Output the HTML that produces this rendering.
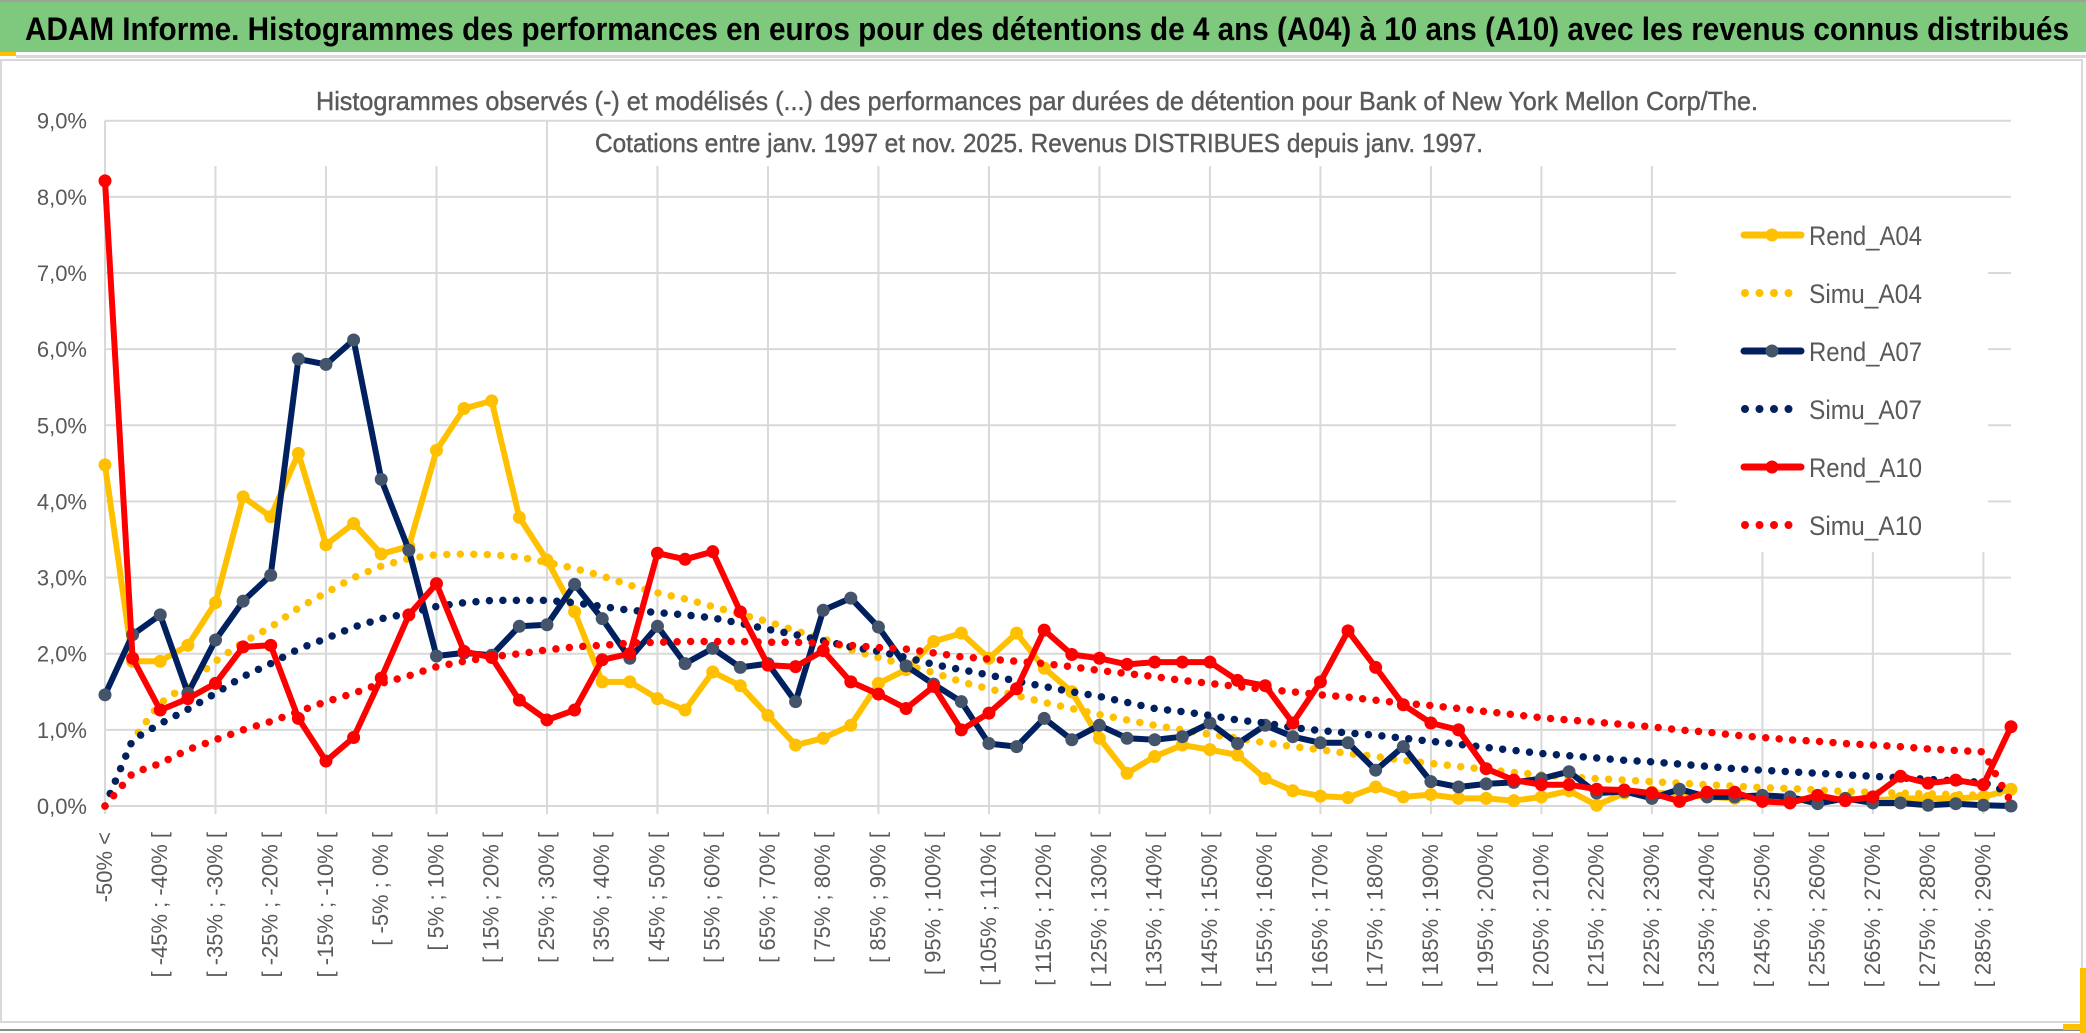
<!DOCTYPE html>
<html><head><meta charset="utf-8"><style>
html,body{margin:0;padding:0;background:#fff;}
svg{display:block;}
text{font-family:"Liberation Sans",sans-serif;}
</style></head><body>
<svg id="chart" width="2086" height="1033" viewBox="0 0 2086 1033" xmlns="http://www.w3.org/2000/svg">
<rect x="0" y="0" width="2086" height="1033" fill="#fff"/>
<rect x="0" y="0" width="2086" height="2" fill="#a0a0a0"/>
<rect x="0" y="2" width="2086" height="50" fill="#7FC97F"/>
<rect x="0" y="52" width="16" height="4" fill="#FFC000"/>
<rect x="16" y="55" width="2070" height="3" fill="#d9d9d9"/>
<text x="25" y="40" font-size="32" font-weight="bold" fill="#000" textLength="2044" lengthAdjust="spacingAndGlyphs">ADAM Informe. Histogrammes des performances en euros pour des détentions de 4 ans (A04) à 10 ans (A10) avec les revenus connus distribués</text>
<rect x="1" y="60" width="2081" height="962" fill="none" stroke="#d9d9d9" stroke-width="2"/>
<rect x="0" y="1029" width="2086" height="2" fill="#8a8a8a"/>
<rect x="2080" y="968" width="6" height="65" fill="#FFC000"/>
<rect x="2063" y="1024" width="23" height="6" fill="#FFC000"/>
<text x="1037" y="110" font-size="26" fill="#595959" stroke="#595959" stroke-width="0.4" text-anchor="middle" textLength="1442" lengthAdjust="spacingAndGlyphs">Histogrammes observés (-) et modélisés (...) des performances par durées de détention pour Bank of New York Mellon Corp/The.</text>
<text x="1039" y="152" font-size="26" fill="#595959" stroke="#595959" stroke-width="0.4" text-anchor="middle" textLength="888" lengthAdjust="spacingAndGlyphs">Cotations entre janv. 1997 et nov. 2025. Revenus DISTRIBUES depuis janv. 1997.</text>
<g id="grid"></g><g id="xlabels"></g><g id="ylabels"></g><g id="series"></g><g id="legend"></g>
</svg>
<script>
const categories = ["-50% <","[ -50% ; -45% [","[ -45% ; -40% [","[ -40% ; -35% [","[ -35% ; -30% [","[ -30% ; -25% [","[ -25% ; -20% [","[ -20% ; -15% [","[ -15% ; -10% [","[ -10% ; -5% [","[ -5% ; 0% [","[ 0% ; 5% [","[ 5% ; 10% [","[ 10% ; 15% [","[ 15% ; 20% [","[ 20% ; 25% [","[ 25% ; 30% [","[ 30% ; 35% [","[ 35% ; 40% [","[ 40% ; 45% [","[ 45% ; 50% [","[ 50% ; 55% [","[ 55% ; 60% [","[ 60% ; 65% [","[ 65% ; 70% [","[ 70% ; 75% [","[ 75% ; 80% [","[ 80% ; 85% [","[ 85% ; 90% [","[ 90% ; 95% [","[ 95% ; 100% [","[ 100% ; 105% [","[ 105% ; 110% [","[ 110% ; 115% [","[ 115% ; 120% [","[ 120% ; 125% [","[ 125% ; 130% [","[ 130% ; 135% [","[ 135% ; 140% [","[ 140% ; 145% [","[ 145% ; 150% [","[ 150% ; 155% [","[ 155% ; 160% [","[ 160% ; 165% [","[ 165% ; 170% [","[ 170% ; 175% [","[ 175% ; 180% [","[ 180% ; 185% [","[ 185% ; 190% [","[ 190% ; 195% [","[ 195% ; 200% [","[ 200% ; 205% [","[ 205% ; 210% [","[ 210% ; 215% [","[ 215% ; 220% [","[ 220% ; 225% [","[ 225% ; 230% [","[ 230% ; 235% [","[ 235% ; 240% [","[ 240% ; 245% [","[ 245% ; 250% [","[ 250% ; 255% [","[ 255% ; 260% [","[ 260% ; 265% [","[ 265% ; 270% [","[ 270% ; 275% [","[ 275% ; 280% [","[ 280% ; 285% [","[ 285% ; 290% [","[ 290% ; 295% ["];
const rendA04 = [4.48,1.90,1.90,2.11,2.67,4.06,3.80,4.63,3.43,3.71,3.31,3.41,4.67,5.22,5.32,3.79,3.23,2.55,1.63,1.63,1.41,1.26,1.76,1.58,1.19,0.80,0.89,1.06,1.61,1.79,2.16,2.27,1.94,2.27,1.81,1.50,0.89,0.43,0.65,0.80,0.74,0.67,0.36,0.20,0.13,0.11,0.25,0.12,0.15,0.10,0.10,0.07,0.12,0.20,0.01,0.17,0.18,0.15,0.12,0.10,0.12,0.10,0.08,0.10,0.07,0.10,0.10,0.10,0.12,0.22];
const simuA04 = [0,0.87,1.35,1.6,1.9,2.15,2.35,2.6,2.8,3.0,3.15,3.25,3.3,3.31,3.3,3.27,3.2,3.12,3.02,2.9,2.8,2.72,2.62,2.52,2.42,2.3,2.2,2.05,1.95,1.85,1.75,1.63,1.54,1.45,1.36,1.28,1.2,1.13,1.06,1.0,0.94,0.89,0.83,0.78,0.74,0.69,0.65,0.6,0.56,0.52,0.48,0.44,0.41,0.38,0.36,0.34,0.32,0.3,0.28,0.26,0.24,0.23,0.21,0.19,0.18,0.17,0.16,0.15,0.14,0.2];
const rendA07 = [1.46,2.25,2.51,1.48,2.18,2.69,3.03,5.87,5.80,6.12,4.29,3.36,1.97,2.01,1.98,2.36,2.38,2.91,2.46,1.94,2.36,1.87,2.07,1.82,1.87,1.37,2.57,2.73,2.35,1.84,1.60,1.37,0.82,0.78,1.15,0.87,1.06,0.89,0.87,0.91,1.09,0.82,1.06,0.91,0.83,0.83,0.47,0.78,0.32,0.25,0.29,0.31,0.36,0.45,0.17,0.19,0.10,0.22,0.12,0.12,0.14,0.12,0.03,0.10,0.04,0.04,0.01,0.03,0.01,0.00];
const simuA07 = [0,0.87,1.08,1.27,1.48,1.70,1.87,2.06,2.2,2.35,2.46,2.53,2.62,2.67,2.70,2.70,2.70,2.67,2.62,2.57,2.54,2.51,2.47,2.40,2.32,2.25,2.17,2.09,2.03,1.95,1.86,1.79,1.72,1.64,1.57,1.5,1.44,1.36,1.28,1.24,1.19,1.13,1.09,1.03,0.99,0.96,0.93,0.89,0.85,0.81,0.77,0.73,0.69,0.66,0.63,0.6,0.58,0.55,0.52,0.49,0.47,0.45,0.43,0.41,0.39,0.37,0.35,0.33,0.31,0.17];
const rendA10 = [8.21,1.94,1.26,1.41,1.61,2.09,2.11,1.15,0.59,0.90,1.68,2.51,2.92,2.03,1.95,1.39,1.13,1.26,1.92,2.00,3.32,3.24,3.34,2.55,1.85,1.83,2.04,1.63,1.47,1.28,1.57,1.00,1.22,1.54,2.31,1.99,1.94,1.86,1.89,1.89,1.89,1.65,1.58,1.09,1.63,2.30,1.82,1.33,1.09,1.00,0.49,0.34,0.28,0.28,0.22,0.21,0.17,0.06,0.18,0.18,0.06,0.04,0.14,0.07,0.12,0.39,0.30,0.34,0.28,1.04];
const simuA10 = [0,0.43,0.56,0.74,0.87,1.0,1.11,1.24,1.37,1.48,1.61,1.71,1.83,1.9,1.96,2.0,2.05,2.09,2.11,2.14,2.15,2.16,2.16,2.16,2.15,2.15,2.14,2.11,2.08,2.06,2.01,1.96,1.93,1.9,1.87,1.83,1.78,1.74,1.70,1.65,1.61,1.57,1.53,1.5,1.46,1.43,1.39,1.35,1.32,1.28,1.24,1.20,1.16,1.13,1.10,1.07,1.04,1.00,0.97,0.93,0.90,0.87,0.85,0.82,0.80,0.78,0.75,0.73,0.71,0.05];
const yTicks = [0,1,2,3,4,5,6,7,8,9];
const yTickLabels = ["0,0%","1,0%","2,0%","3,0%","4,0%","5,0%","6,0%","7,0%","8,0%","9,0%"];
const seriesNames = ["Rend_A04","Simu_A04","Rend_A07","Simu_A07","Rend_A10","Simu_A10"];

const NS = "http://www.w3.org/2000/svg";
const X0 = 105, X1 = 2011, Y0 = 806, Y9 = 120.7;
function xPos(i){ return X0 + (X1 - X0) * i / (categories.length - 1); }
function yPos(v){ return Y0 - (Y0 - Y9) * v / 9; }
function mk(tag, attrs, parent){ const e = document.createElementNS(NS, tag); for (const k in attrs) e.setAttribute(k, attrs[k]); parent.appendChild(e); return e; }

const grid = document.getElementById('grid');
const legendBox = {x:1676, y:203, w:312, h:349};
yTicks.forEach((t, k) => {
  const y = yPos(t);
  const inLegend = y > legendBox.y && y < legendBox.y + legendBox.h;
  if (inLegend) {
    const a = mk('line', {x1:X0, x2:legendBox.x, y1:y, y2:y, stroke:'#d9d9d9', 'stroke-width':2}, grid);
    
    
    const b = mk('line', {x1:legendBox.x + legendBox.w, x2:X1, y1:y, y2:y, stroke:'#d9d9d9', 'stroke-width':2}, grid);
    
    
  } else {
    const l = mk('line', {x1:X0, x2:X1, y1:y, y2:y, stroke:'#d9d9d9', 'stroke-width':2}, grid);
    
    
  }
  const lab = mk('text', {x:87, y:y + 8, 'font-size':22, fill:'#595959', 'text-anchor':'end'}, document.getElementById('ylabels'));
  lab.textContent = yTickLabels[k];
  
  
});
for (let i = 0; i < categories.length; i += 4) {
  const x = xPos(i);
  let top = Y9;
  if (i > 0 && x < 500) top = 166;
  if (x > 580 && x < 1680) top = 166;
  if (x > legendBox.x && x < legendBox.x + legendBox.w) top = legendBox.y + legendBox.h;
  const l = mk('line', {x1:x, x2:x, y1:top, y2:Y0 + 8, stroke:'#d9d9d9', 'stroke-width':2}, grid);
  
  
}
const xl = document.getElementById('xlabels');
categories.forEach((c, i) => {
  if (i % 2 !== 0) return;
  const x = xPos(i) + 7;
  const t = mk('text', {x:x, y:832, 'font-size':22, fill:'#595959', 'text-anchor':'end', transform:'rotate(-90 ' + x + ' 832)'}, xl);
  t.textContent = c;
  
  
});

const sg = document.getElementById('series');
function pts(arr){ return arr.map((v, i) => xPos(i).toFixed(1) + ',' + yPos(v).toFixed(1)).join(' '); }
function dotted(arr, color, name){
  const p = mk('polyline', {points:pts(arr), fill:'none', stroke:color, 'stroke-width':7.5, 'stroke-linecap':'round', 'stroke-dasharray':'0 13.5'}, sg);
  
  
}
function solid(arr, color, mcolor, name){
  const p = mk('polyline', {points:pts(arr), fill:'none', stroke:color, 'stroke-width':6, 'stroke-linejoin':'round'}, sg);
  
  
  arr.forEach((v, i) => {
    const c = mk('circle', {cx:xPos(i), cy:yPos(v), r:6.5, fill:mcolor}, sg);
    
    
  });
}
solid(rendA04, '#FFC000', '#FFC000', 'rend-a04-line');
dotted(simuA04, '#FFC000', 'simu-a04-line');
solid(rendA07, '#002060', '#44546A', 'rend-a07-line');
dotted(simuA07, '#002060', 'simu-a07-line');
solid(rendA10, '#FF0000', '#FF0000', 'rend-a10-line');
dotted(simuA10, '#FF0000', 'simu-a10-line');

const lg = document.getElementById('legend');
const legColors = ['#FFC000','#FFC000','#002060','#002060','#FF0000','#FF0000'];
const legMarker = ['#FFC000',null,'#44546A',null,'#FF0000',null];
seriesNames.forEach((n, k) => {
  const y = 235 + k * 58;
  const g = mk('g', {}, lg);
  
  
  if (legMarker[k]) {
    mk('line', {x1:1744, x2:1801, y1:y, y2:y, stroke:legColors[k], 'stroke-width':7, 'stroke-linecap':'round'}, g);
    mk('circle', {cx:1772, cy:y, r:6.5, fill:legMarker[k]}, g);
  } else {
    mk('line', {x1:1745, x2:1795, y1:y, y2:y, stroke:legColors[k], 'stroke-width':8, 'stroke-linecap':'round', 'stroke-dasharray':'0 14.5'}, g);
  }
  const t = mk('text', {x:1809, y:y + 10, 'font-size':27, fill:'#595959', textLength:113, lengthAdjust:'spacingAndGlyphs'}, g);
  t.textContent = n;
});
</script>
</body></html>
